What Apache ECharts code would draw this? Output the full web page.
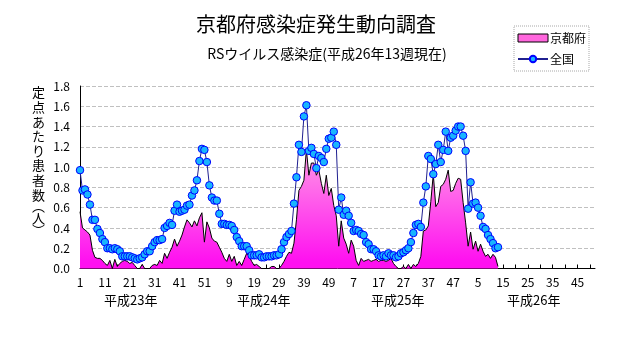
<!DOCTYPE html>
<html><head><meta charset="utf-8">
<script src="https://cdn.jsdelivr.net/npm/echarts@6/dist/echarts.min.js"></script>
<style>html,body{margin:0;padding:0;background:#fff;}#c{width:631px;height:347px;}</style>
</head><body><div id="c"></div>
<script>
// ---- data ----
const yearLabels = ['平成23年', '平成24年', '平成25年', '平成26年'];
const weeksPerYear = [52, 52, 52, 52];
const yTicks = [0, 0.2, 0.4, 0.6, 0.8, 1.0, 1.2, 1.4, 1.6, 1.8];

// 京都府 (per sentinel), 2011 w1 .. 2014 w13
const kyoto2011 = [0.56,0.40,0.38,0.36,0.33,0.18,0.11,0.10,0.10,0.08,0.05,0.03,0.08,0.00,0.09,0.02,0.05,0.07,0.08,0.07,0.05,0.06,0.03,0.00,0.00,0.04,0.00,0.00,0.00,0.03,0.04,0.03,0.08,0.05,0.15,0.10,0.16,0.21,0.29,0.22,0.27,0.33,0.41,0.48,0.45,0.41,0.47,0.42,0.50,0.55,0.26,0.46];
const kyoto2012 = [0.40,0.30,0.27,0.26,0.21,0.16,0.10,0.07,0.14,0.07,0.12,0.03,0.07,0.03,0.09,0.15,0.12,0.07,0.03,0.04,0.02,0.00,0.00,0.00,0.00,0.02,0.02,0.00,0.00,0.03,0.07,0.12,0.16,0.15,0.25,0.48,0.77,0.81,0.87,1.17,0.92,1.04,1.04,0.92,0.97,0.84,0.74,0.92,0.72,0.79,0.62,0.52];
const kyoto2013 = [0.22,0.47,0.30,0.24,0.15,0.28,0.22,0.08,0.03,0.10,0.07,0.08,0.09,0.07,0.08,0.09,0.07,0.08,0.08,0.07,0.08,0.10,0.05,0.02,0.00,0.00,0.02,0.00,0.04,0.00,0.04,0.02,0.05,0.12,0.37,0.38,0.42,0.66,0.93,0.61,0.65,0.81,0.83,0.88,0.97,0.76,0.77,0.84,0.89,0.88,0.65,0.45];
const kyoto2014 = [0.22,0.36,0.19,0.27,0.17,0.24,0.17,0.12,0.14,0.10,0.14,0.11,0.02];

// 全国
const nation2011 = [0.97,0.77,0.78,0.73,0.63,0.48,0.48,0.39,0.35,0.29,0.26,0.20,0.20,0.19,0.20,0.19,0.17,0.12,0.12,0.12,0.12,0.11,0.10,0.09,0.10,0.11,0.14,0.17,0.17,0.22,0.26,0.28,0.28,0.29,0.40,0.42,0.45,0.43,0.57,0.63,0.56,0.57,0.58,0.62,0.63,0.72,0.77,0.87,1.06,1.18,1.17,1.05];
const nation2012 = [0.82,0.70,0.67,0.67,0.54,0.44,0.44,0.43,0.43,0.42,0.38,0.31,0.27,0.22,0.22,0.22,0.18,0.13,0.13,0.13,0.14,0.11,0.11,0.12,0.12,0.12,0.13,0.13,0.14,0.19,0.26,0.31,0.34,0.37,0.64,0.90,1.22,1.15,1.50,1.61,1.16,1.19,1.13,0.99,1.11,1.09,1.05,1.18,1.28,1.29,1.35,1.22];
const nation2013 = [0.58,0.70,0.53,0.57,0.52,0.45,0.37,0.38,0.37,0.34,0.33,0.26,0.24,0.19,0.19,0.17,0.13,0.12,0.13,0.12,0.15,0.13,0.13,0.11,0.12,0.15,0.16,0.18,0.20,0.26,0.35,0.43,0.44,0.41,0.65,0.81,1.11,1.08,0.93,1.03,1.22,1.05,1.17,1.35,1.16,1.29,1.31,1.36,1.40,1.40,1.31,1.16];
const nation2014 = [0.59,0.85,0.64,0.65,0.60,0.52,0.41,0.39,0.33,0.29,0.25,0.20,0.21];

// ---- build ----
const categories = [];
weeksPerYear.forEach(n => { for (let w = 1; w <= n; w++) categories.push(String(w)); });
const kyoto = [].concat(kyoto2011, kyoto2012, kyoto2013, kyoto2014);
const nation = [].concat(nation2011, nation2012, nation2013, nation2014);

const jp = '"Noto Sans CJK JP", "Noto Sans", sans-serif';
const chart = echarts.init(document.getElementById('c'), null, {renderer: 'canvas'});

const yName = ['定','点','あ','た','り','患','者','数'].map(c => '{n|' + c + '}').join('\n') + '\n{p|︵}\n{n|人}\n{p|︶}';

chart.setOption({
  animation: false,
  backgroundColor: '#fff',
  title: [
    {text: '京都府感染症発生動向調査', left: 311, top: 9, textAlign: 'center',
     textStyle: {fontFamily: jp, fontSize: 20, fontWeight: 'normal', color: '#000'}},
    {text: 'RSウイルス感染症(平成26年13週現在)', left: 322, top: 42, textAlign: 'center',
     textStyle: {fontFamily: jp, fontSize: 14, fontWeight: 'normal', color: '#000'}}
  ],
  legend: {
    orient: 'vertical', left: 514, top: 26,
    itemWidth: 30, itemHeight: 8, itemGap: 9,
    padding: [6, 3, 6, 3],
    borderColor: '#a8a8a8', borderWidth: 1, borderType: 'dotted',
    textStyle: {fontFamily: jp, fontSize: 12, color: '#000', padding: [0, 0, 0, -3]},
    data: [
      {name: '京都府', icon: 'rect', itemStyle: {color: '#ff66dd', borderColor: '#000', borderWidth: 1}},
      {name: '全国'}
    ]
  },
  grid: {left: 80, right: 36, top: 86, bottom: 78.5, containLabel: false},
  xAxis: {
    type: 'category', data: categories, boundaryGap: false,
    axisLine: {lineStyle: {color: '#000', width: 1}},
    axisTick: {inside: true, length: 4, interval: 4, lineStyle: {color: '#000'}},
    axisLabel: {interval: 9, color: '#000', fontFamily: jp, fontSize: 12, margin: 8},
    splitLine: {show: false}
  },
  yAxis: {
    type: 'value', min: yTicks[0], max: yTicks[yTicks.length - 1], interval: 0.2,
    axisLine: {show: true, lineStyle: {color: '#000', width: 1}},
    axisTick: {show: false},
    axisLabel: {color: '#000', fontFamily: jp, fontSize: 12, margin: 10, formatter: v => v.toFixed(1)},
    splitLine: {show: true, lineStyle: {color: '#c0c0c0', type: [4, 2], width: 1}}
  },
  graphic: [
    {type: 'text', left: 32, top: 86, style: {
      text: yName, fill: '#000',
      rich: {
        n: {fontFamily: jp, fontSize: 13, lineHeight: 14.6, fill: '#000'},
        p: {fontFamily: jp, fontSize: 13, lineHeight: 9, fill: '#000'}
      }}},
    ...yearLabels.map((t, k) => ({type: 'text', left: [104, 237, 371, 507][k], top: 294,
      style: {text: t, fill: '#000', font: '13px ' + jp}}))
  ],
  series: [
    {
      name: '京都府', type: 'line', data: kyoto, showSymbol: false, symbol: 'none',
      lineStyle: {color: '#000', width: 1},
      itemStyle: {color: '#ff66dd'},
      areaStyle: {opacity: 1, color: {type: 'linear', x: 0, y: 150, x2: 0, y2: 262, global: true,
        colorStops: [{offset: 0, color: '#ff9be6'}, {offset: 1, color: '#ff10f0'}]}},
      z: 2
    },
    {
      name: '全国', type: 'line', data: nation, symbol: 'circle', symbolSize: 7.5, showAllSymbol: true,
      lineStyle: {color: '#202090', width: 1},
      itemStyle: {color: '#19b5fe', borderColor: '#0000ff', borderWidth: 1},
      z: 3
    }
  ]
});
</script></body></html>
